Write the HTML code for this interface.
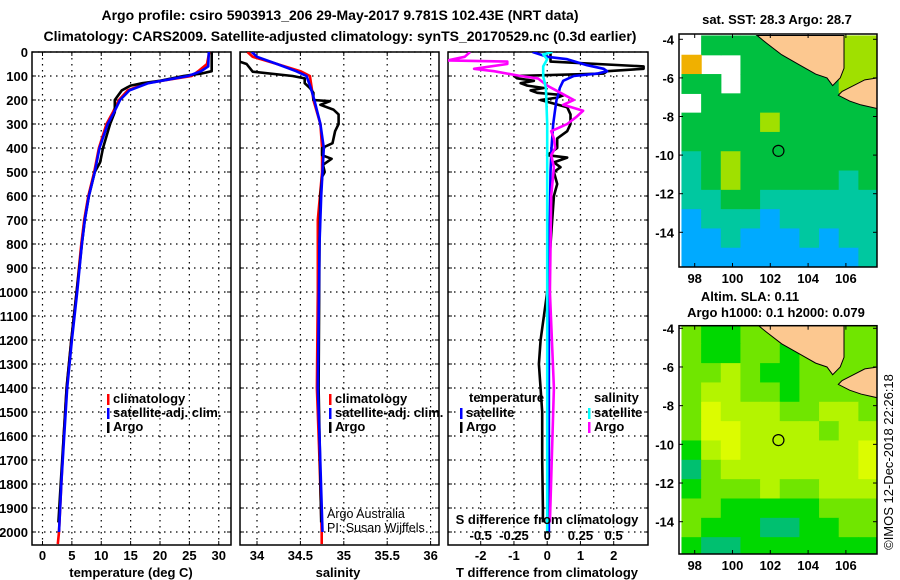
<!DOCTYPE html>
<html><head><meta charset="utf-8">
<style>
html,body{margin:0;padding:0;background:#fff;}
svg{display:block;font-family:"Liberation Sans",sans-serif;}
.b{font-weight:bold;}
</style></head>
<body>
<svg id="fig" width="900" height="580" viewBox="0 0 900 580" xmlns="http://www.w3.org/2000/svg">
<text x="340" y="20" text-anchor="middle" font-size="14" class="b">Argo profile: csiro 5903913_206 29-May-2017 9.781S 102.43E (NRT data)</text>
<text x="340" y="41" text-anchor="middle" font-size="14" class="b">Climatology: CARS2009. Satellite-adjusted climatology: synTS_20170529.nc (0.3d earlier)</text>
<g id="root"></g>
<text transform="translate(893,462) rotate(-90)" text-anchor="middle" font-size="13">©IMOS 12-Dec-2018 22:26:18</text>
</svg>
<script>
// ---------- DATA ----------
const tDepthClim = [0,50,80,100,130,160,200,250,300,400,500,600,700,800,1000,1200,1400,1600,1800,2000,2050];
const tClim      = [28.4,28.0,26.5,25.4,17.7,14.5,13.0,12.0,10.9,9.6,8.8,7.8,7.1,6.6,5.8,4.9,4.1,3.6,3.2,2.8,2.6];
const tDepthSat  = [0,60,80,100,130,160,200,250,300,400,500,600,700,800,1000,1200,1400,1600,1800,2000];
const tSat       = [28.3,28.2,27.0,24.8,18.0,14.8,13.2,12.2,11.1,9.7,8.9,7.9,7.2,6.7,5.9,5.0,4.2,3.7,3.2,2.8];
const tDepthArgo = [0,80,90,100,120,130,140,160,180,200,220,250,300,400,460,500,600,700,800,1000,1200,1400,1600,1800,1960];
const tArgo      = [28.8,28.8,27.0,24.0,20.0,17.0,15.0,13.5,12.9,12.3,12.3,12.3,11.5,10.3,9.8,8.9,7.9,7.2,6.7,5.8,4.9,4.1,3.6,3.1,2.7];

const sDepthClim = [0,20,50,80,100,150,200,300,400,500,700,1000,1400,1700,2000,2050];
const sClim      = [33.89,33.95,34.23,34.5,34.61,34.63,34.65,34.73,34.75,34.75,34.70,34.70,34.69,34.72,34.745,34.745];
const sDepthSat  = [0,20,50,80,100,150,200,300,400,600,800,1400,1600,2000];
const sSat       = [33.94,34.0,34.23,34.45,34.57,34.62,34.66,34.73,34.77,34.74,34.72,34.70,34.72,34.755];
const sDepthArgo = [0,40,50,82,100,110,130,150,170,200,205,220,240,260,300,330,380,400,430,445,470,500,520,600,800,1400,1960];
const sArgo      = [33.8,33.8,33.88,33.95,34.41,34.55,34.55,34.61,34.65,34.65,34.84,34.73,34.88,34.94,34.94,34.9,34.87,34.75,34.75,34.86,34.76,34.78,34.75,34.73,34.72,34.71,34.74];

const dDepthTArgo = [0,40,60,70,80,90,100,110,120,130,140,150,160,170,180,190,200,230,260,300,330,360,400,430,440,460,480,500,550,600,700,1000,1200,1300,1500,1700,1900,1960];
const dTArgo      = [0.1,0.1,2.9,2.9,1.8,1.7,-1.0,-0.9,-0.4,-0.8,-0.6,-0.1,-0.5,-0.3,0.5,0.3,-0.2,0.6,0.7,0.7,0.6,0.3,0.3,0.0,0.6,0.2,0.4,0.2,0.3,0.2,0.15,0.0,-0.2,-0.25,-0.15,-0.15,-0.13,-0.13];
const dDepthTSat  = [0,20,30,55,70,80,90,100,120,150,180,200,250,300,400,500,1000,2000];
const dTSat       = [-0.44,0.0,0.6,1.2,1.7,1.8,1.5,0.8,0.48,0.38,0.33,0.28,0.23,0.18,0.13,0.1,0.05,0.05];
const dDepthSArgo = [0,20,35,40,50,70,80,100,110,140,170,200,220,245,270,300,330,360,400,430,480,600,1000,1400,1960];
const dSArgo      = [-0.58,-0.62,-0.75,-0.3,-0.3,-0.55,-0.4,-0.2,-0.07,0.0,0.1,0.2,0.12,0.27,0.22,0.15,0.03,0.05,0.06,0.03,0.05,0.03,0.02,0.05,0.02];
const dDepthSSat  = [0,10,30,60,100,150,300,1000,2000];
const dSSat       = [0.04,-0.03,0.0,-0.03,-0.03,-0.01,0.0,0.0,0.0];

const depthTicks = [0,100,200,300,400,500,600,700,800,900,1000,1100,1200,1300,1400,1500,1600,1700,1800,1900,2000];
const tempTicks = [0,5,10,15,20,25,30];
const salTicks = [34,34.5,35,35.5,36];
const salTickLabels = ["34","34.5","35","35.5","36"];
const dTTicks = [-2,-1,0,1,2];
const dSTicks = [-0.5,-0.25,0,0.25,0.5];
const dSTickLabels = ["-0.5","-0.25","0","0.25","0.5"];

const lonTicks = [98,100,102,104,106];
const latTicks = [-4,-6,-8,-10,-12,-14];
// SST grid (rows -3.8..-15.8 by 1 deg, cols 97.3..107.7), 0 = missing
const sstGrid = [
 [0,4,4,4,4,4,4,4,5,5],
 [6,0,0,4,4,4,4,4,5,5],
 [4,4,0,4,4,4,4,4,5,5],
 [0,4,4,4,4,4,4,4,4,4],
 [4,4,4,4,5,4,4,4,4,4],
 [4,4,4,4,4,4,4,4,4,4],
 [3,4,5,4,4,4,4,4,4,4],
 [3,4,5,4,4,4,4,4,3,4],
 [3,3,4,4,3,3,3,3,3,3],
 [2,3,3,3,2,3,3,3,3,3],
 [2,2,3,2,2,2,3,2,3,3],
 [2,2,2,2,2,2,2,2,2,3]];
const slaGrid = [
 [3,2,2,3,3,3,3,3,3,3],
 [3,2,2,3,3,2,3,3,3,3],
 [3,3,4,3,2,2,3,3,3,3],
 [3,4,4,3,3,2,3,3,3,3],
 [3,5,4,4,4,3,3,4,4,3],
 [3,5,5,4,4,4,4,3,4,4],
 [2,4,5,4,4,4,4,4,4,5],
 [1,3,4,4,4,4,4,4,4,5],
 [2,3,3,3,4,3,3,4,4,4],
 [3,3,2,2,2,2,2,3,3,3],
 [3,2,2,2,1,1,2,2,3,3],
 [2,1,1,2,2,2,2,2,2,2]];
const argoLon = 102.43, argoLat = -9.781;
const sumatraLon = [101.3,101.8,102.6,103.5,104.4,105.0,105.3,105.7,105.9,105.9];
const sumatraLat = [-3.8,-4.2,-4.8,-5.3,-5.8,-6.0,-6.4,-6.0,-5.5,-3.8];
const javaLon = [105.6,105.8,106.2,107.0,107.7,107.7,106.8,106.2,105.6];
const javaLat = [-6.9,-6.7,-6.5,-6.1,-6.0,-7.6,-7.4,-7.2,-6.9];

// ---------- helpers ----------
const NS="http://www.w3.org/2000/svg";
const root=document.getElementById('root');
function mk(tag,attrs,parent,text){const e=document.createElementNS(NS,tag);for(const k in attrs)e.setAttribute(k,attrs[k]);if(text!==undefined)e.textContent=text;(parent||root).appendChild(e);return e;}
const TOP=52, BOT=545;
const yD = d => TOP + d*0.24;
const xT = v => 42.5 + v*5.875;
const xS = v => 257 + (v-34)*86.8;
const xDT = v => 547.2 + v*33.25;
const xDS = v => 547.2 + v*133;

function panel(name,x0,x1){
  const g=mk('g',{});
  
  
  return g;
}
function grid(g,x0,x1,xs){
  depthTicks.forEach(d=>{const l=mk('line',{x1:x0,x2:x1,y1:yD(d),y2:yD(d),stroke:'#000','stroke-width':1.2,'stroke-dasharray':'1.5 4.5'},g);
    
    mk('line',{x1:x0,x2:x0+4,y1:yD(d),y2:yD(d),stroke:'#000'},g);mk('line',{x1:x1-4,x2:x1,y1:yD(d),y2:yD(d),stroke:'#000'},g);});
  xs.forEach(x=>{const l=mk('line',{x1:x,x2:x,y1:TOP,y2:BOT,stroke:'#000','stroke-width':1.2,'stroke-dasharray':'1.5 4.5'},g);
    
    mk('line',{x1:x,x2:x,y1:BOT-4,y2:BOT,stroke:'#000'},g);mk('line',{x1:x,x2:x,y1:TOP,y2:TOP+4,stroke:'#000'},g);});
  const f=mk('rect',{x:x0,y:TOP,width:x1-x0,height:BOT-TOP,fill:'none',stroke:'#000','stroke-width':1.5},g);
  
}
function series(g,depths,vals,xf,color,name,clip){
  const pts=depths.map((d,i)=>xf(vals[i]).toFixed(1)+','+yD(d).toFixed(1)).join(' ');
  const p=mk('polyline',{points:pts,fill:'none',stroke:color,'stroke-width':2.6,'stroke-linejoin':'round','clip-path':'url(#'+clip+')'},g);
  
  
}
function clip(id,x0,x1){const defs=mk('defs',{});const c=mk('clipPath',{id:id},defs);mk('rect',{x:x0,y:TOP,width:x1-x0,height:BOT-TOP},c);}
function txt(x,y,s,opts,name){const t=mk('text',Object.assign({x:x,y:y,'font-size':13,'font-weight':'bold'},opts||{}),null,s);
  return t;}
function legend(g,x,y,color,label,name){mk('rect',{x:x,y:y-9,width:2.5,height:11,fill:color},g);
  const t=mk('text',{x:x+6,y:y,'font-size':13,'font-weight':'bold'},g,label);}

// depth labels
depthTicks.forEach(d=>txt(28,yD(d)+5,String(d),{'text-anchor':'end'},'depth-tick-label'));

// Panel 1 temperature
clip('c1',32,231);
const p1=panel('temperature-panel');
grid(p1,32,231,tempTicks.map(xT));
series(p1,tDepthClim,tClim,xT,'#ff0000','temp-climatology-line','c1');
series(p1,tDepthArgo,tArgo,xT,'#000000','temp-argo-line','c1');
series(p1,tDepthSat,tSat,xT,'#0000ff','temp-satellite-line','c1');
tempTicks.forEach(v=>txt(xT(v),560,String(v),{'text-anchor':'middle'},'temp-tick-label'));
txt(131,577,'temperature (deg C)',{'text-anchor':'middle'},'temp-axis-title');
legend(p1,107,403,'#ff0000','climatology','legend-climatology');
legend(p1,107,417,'#0000ff','satellite-adj. clim.','legend-satellite-adj');
legend(p1,107,431,'#000000','Argo','legend-argo');

// Panel 2 salinity
clip('c2',240,439);
const p2=panel('salinity-panel');
grid(p2,240,439,salTicks.map(xS));
series(p2,sDepthClim,sClim,xS,'#ff0000','sal-climatology-line','c2');
series(p2,sDepthArgo,sArgo,xS,'#000000','sal-argo-line','c2');
series(p2,sDepthSat,sSat,xS,'#0000ff','sal-satellite-line','c2');
salTicks.forEach((v,i)=>txt(xS(v),560,salTickLabels[i],{'text-anchor':'middle'},'sal-tick-label'));
txt(338,577,'salinity',{'text-anchor':'middle'},'sal-axis-title');
legend(p2,329,403,'#ff0000','climatology','legend-climatology');
legend(p2,329,417,'#0000ff','satellite-adj. clim.','legend-satellite-adj');
legend(p2,329,431,'#000000','Argo','legend-argo');
txt(327,518,'Argo Australia',{'font-weight':'normal','font-size':12.5},'credit-argo-australia');
txt(327,532,'PI: Susan Wijffels',{'font-weight':'normal','font-size':12.5},'credit-pi');

// Panel 3 differences
clip('c3',448,648);
const p3=panel('difference-panel');
grid(p3,448,648,dTTicks.map(xDT));
series(p3,dDepthTArgo,dTArgo,xDT,'#000000','tdiff-argo-line','c3');
series(p3,dDepthTSat,dTSat,xDT,'#0000ff','tdiff-satellite-line','c3');
series(p3,dDepthSArgo,dSArgo,xDS,'#ff00ff','sdiff-argo-line','c3');
series(p3,dDepthSSat,dSSat,xDS,'#00ffff','sdiff-satellite-line','c3');
dTTicks.forEach(v=>txt(xDT(v),560,String(v),{'text-anchor':'middle'},'tdiff-tick-label'));
txt(547,577,'T difference from climatology',{'text-anchor':'middle'},'tdiff-axis-title');
txt(547,524,'S difference from climatology',{'text-anchor':'middle'},'sdiff-axis-title');
dSTicks.forEach((v,i)=>txt(xDS(v),540,dSTickLabels[i],{'text-anchor':'middle'},'sdiff-tick-label'));
txt(469,402,'temperature',{},'legend-temperature-heading');
txt(594,402,'salinity',{},'legend-salinity-heading');
legend(p3,460,417,'#0000ff','satellite','legend-temp-satellite');
legend(p3,460,431,'#000000','Argo','legend-temp-argo');
legend(p3,588,417,'#00ffff','satellite','legend-sal-satellite');
legend(p3,588,431,'#ff00ff','Argo','legend-sal-argo');

// ---------- Maps ----------
const sstColors={1:'#0000ff',2:'#00aaff',3:'#00c8a0',4:'#00c040',5:'#a0e000',6:'#f0b000'};
const slaColors={1:'#00c070',2:'#00d800',3:'#70e600',4:'#b4f400',5:'#dcfc00'};
function map(name,gridData,colors,yTop,yBot,lat4y,perLat,titleLines){
  const g=mk('g',{});
  
  
  const x0=679,x1=877;
  const lx=lon=>694.7+(lon-98)*18.9;
  const ly=lat=>lat4y+(-4-lat)*perLat;
  const cid=name+'-clip';
  const defs=mk('defs',{},g);const c=mk('clipPath',{id:cid},defs);mk('rect',{x:x0,y:yTop,width:x1-x0,height:yBot-yTop},c);
  const cg=mk('g',{'clip-path':'url(#'+cid+')'},g);
  mk('rect',{x:x0,y:yTop,width:x1-x0,height:yBot-yTop,fill:'#fff'},cg);
  const dLon=(107.7-97.3)/10;
  gridData.forEach((row,r)=>row.forEach((v,ci)=>{
    if(!v)return;
    const lon0=97.3+ci*dLon, lat0=-3.8-r;
    const cell=mk('rect',{x:lx(lon0),y:ly(lat0),width:dLon*18.9+0.6,height:perLat+0.6,fill:colors[v]},cg);
    
    
  }));
  const land=(lons,lats,n)=>{const p=mk('polygon',{points:lons.map((L,i)=>lx(L)+','+ly(lats[i])).join(' '),fill:'#fcc890',stroke:'#000','stroke-width':1},cg);
    };
  land(sumatraLon,sumatraLat,'land-sumatra');
  land(javaLon,javaLat,'land-java');
  const m=mk('circle',{cx:lx(argoLon),cy:ly(argoLat),r:5.5,fill:'none',stroke:'#000','stroke-width':1.2},g);
  
  const fr=mk('rect',{x:x0,y:yTop,width:x1-x0,height:yBot-yTop,fill:'none',stroke:'#000','stroke-width':1.5},g);
  
  latTicks.forEach(L=>{const y=ly(L);mk('line',{x1:x0,x2:x0+4,y1:y,y2:y,stroke:'#000'},g);mk('line',{x1:x1-4,x2:x1,y1:y,y2:y,stroke:'#000'},g);
    const t=mk('text',{x:x0-5,y:y+5,'text-anchor':'end','font-size':13,'font-weight':'bold'},g,String(L));});
  lonTicks.forEach(L=>{const x=lx(L);mk('line',{x1:x,x2:x,y1:yBot-4,y2:yBot,stroke:'#000'},g);mk('line',{x1:x,x2:x,y1:yTop,y2:yTop+4,stroke:'#000'},g);
    const t=mk('text',{x:x,y:yBot+16,'text-anchor':'middle','font-size':13,'font-weight':'bold'},g,String(L));});
  titleLines.forEach(tl=>{const t=mk('text',{x:tl[0],y:tl[1],'text-anchor':'middle','font-size':13,'font-weight':'bold'},g,tl[2]);});
}
map('sst-map',sstGrid,sstColors,34,267,39.3,19.3,[[777,24,'sat. SST: 28.3 Argo: 28.7']]);
map('sla-map',slaGrid,slaColors,325.7,554,328.3,19.34,[[750,301,'Altim. SLA: 0.11'],[776,317,'Argo h1000: 0.1 h2000: 0.079']]);
</script>
</body></html>
